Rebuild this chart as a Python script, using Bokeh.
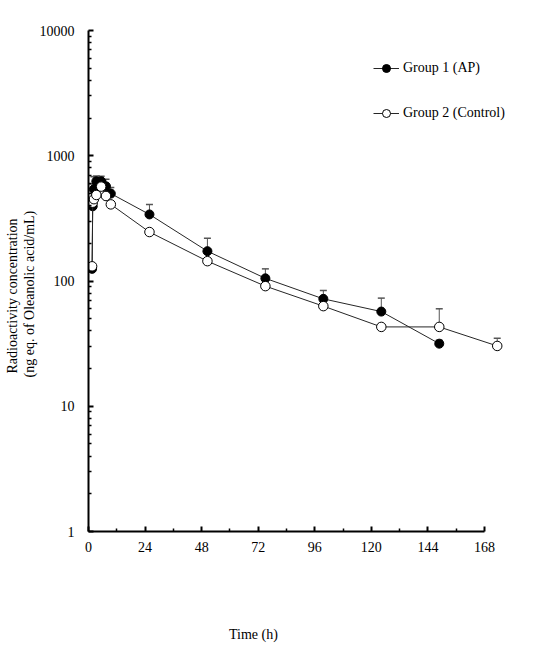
from bokeh.plotting import figure
from bokeh.models import (Range1d, FixedTicker, ColumnDataSource, Whisker, TeeHead,
                          Legend, LegendItem, Title)
from bokeh.embed import file_html
from bokeh.resources import INLINE

# ---------------- data ----------------
time_g1 = [0.25, 0.5, 1, 2, 4, 6, 8, 24, 48, 72, 96, 120, 144]
conc_g1 = [125, 395, 540, 625, 625, 570, 499, 340, 173, 105, 72, 57, 31.6]
sd_g1 = [0, 200, 140, 65, 60, 80, 60, 69, 46, 20, 12, 16, 2]

time_g2 = [0.25, 0.5, 1, 2, 4, 6, 8, 24, 48, 72, 96, 120, 144, 168]
conc_g2 = [131, 422, 450, 486, 567, 477, 409, 246, 144, 91, 63, 43, 43, 30.3]
sd_g2 = [0, 10, 10, 10, 12, 10, 10, 10, 8, 5, 3, 2, 17, 4.6]

x_ticks = [0, 24, 48, 72, 96, 120, 144, 168]
x_minor = [12, 36, 60, 84, 108, 132, 156]
y_decades = [1, 10, 100, 1000, 10000]

series_labels = ["Group 1 (AP)", "Group 2 (Control)"]
x_label = "Time (h)"
y_label_1 = "Radioactivity concentration"
y_label_2 = "(ng eq. of Oleanolic acid/mL)"

# ---------------- layout ----------------
FONT = "Liberation Serif"
W, H = 530, 650
BL, BT = 88, 30
FRAME_RIGHT = 512
FRAME_BOTTOM = 531
BR = W - FRAME_RIGHT
BB = H - FRAME_BOTTOM
FRAME_W = FRAME_RIGHT - BL

AX0, AX168 = 88, 484
x_end = 168 * FRAME_W / (AX168 - AX0)
# the markers of the source image sit on a slightly shifted time scale
D0, DPX = 91, 2.415
d_start = (BL - D0) / DPX
d_end = (FRAME_RIGHT - D0) / DPX

p = figure(width=W, height=H, x_range=Range1d(0, x_end), y_range=Range1d(1, 10000),
           y_axis_type="log", output_backend="svg", toolbar_location=None,
           min_border_left=BL, min_border_right=BR, min_border_top=BT, min_border_bottom=BB)
p.extra_x_ranges = {"data": Range1d(d_start, d_end)}
p.outline_line_color = None
p.xgrid.visible = False
p.ygrid.visible = False

minor_y = [k * d for d in y_decades[:-1] for k in range(2, 10)]
for ax in (p.xaxis[0], p.yaxis[0]):
    ax.axis_line_width = 2
    ax.axis_line_color = "black"
    ax.major_tick_line_color = "black"
    ax.minor_tick_line_color = "black"
    ax.major_tick_line_width = 2
    ax.minor_tick_line_width = 1.5
    ax.major_tick_out = 0
    ax.major_tick_in = 5
    ax.minor_tick_out = 0
    ax.minor_tick_in = 3
    ax.major_label_text_font = FONT
    ax.major_label_text_font_size = "14px"
    ax.major_label_text_color = "black"

p.xaxis[0].ticker = FixedTicker(ticks=x_ticks, minor_ticks=x_minor)
p.xaxis[0].bounds = (0, 168)
p.xaxis[0].major_label_standoff = 10
p.yaxis[0].ticker = FixedTicker(ticks=y_decades, minor_ticks=minor_y)
p.yaxis[0].major_label_standoff = 14
p.yaxis[0].major_label_overrides = {d: str(d) for d in y_decades}

LINE_COL = "#262626"

src1 = ColumnDataSource(dict(t=time_g1, c=conc_g1, up=[c + s for c, s in zip(conc_g1, sd_g1)]))
src2 = ColumnDataSource(dict(t=time_g2, c=conc_g2, up=[c + s for c, s in zip(conc_g2, sd_g2)]))

for src in (src1, src2):
    w = Whisker(base="t", lower="c", upper="up", source=src, x_range_name="data",
                line_color="#555555", line_width=1,
                upper_head=TeeHead(size=7, line_color="#555555", line_width=1.5),
                lower_head=None)
    p.add_layout(w)

l1 = p.line("t", "c", source=src1, x_range_name="data", line_color=LINE_COL, line_width=1)
s1 = p.scatter("t", "c", source=src1, x_range_name="data", size=9,
               fill_color="black", line_color="black", line_width=1)
l2 = p.line("t", "c", source=src2, x_range_name="data", line_color=LINE_COL, line_width=1)
s2 = p.scatter("t", "c", source=src2, x_range_name="data", size=9.5,
               fill_color="white", line_color="black", line_width=1)

legend = Legend(items=[LegendItem(label=series_labels[0], renderers=[l1, s1]),
                       LegendItem(label=series_labels[1], renderers=[l2, s2])],
                location=(373 - BL, FRAME_BOTTOM - 123),
                orientation="vertical", spacing=25, glyph_width=26, glyph_height=20,
                label_height=20, label_standoff=4, padding=0, margin=0,
                border_line_color=None, background_fill_alpha=0,
                label_text_font=FONT, label_text_font_size="14px",
                label_text_color="black")
p.add_layout(legend, "center")

# y axis title: two lines, innermost first
for txt, off in ((y_label_2, FRAME_BOTTOM - 377), (y_label_1, FRAME_BOTTOM - 373)):
    p.add_layout(Title(text=txt, align="left", offset=off, standoff=0, text_font=FONT,
                       text_font_size="14px", text_font_style="normal",
                       text_color="black"), "left")

# x axis title, pushed down to sit well below the tick labels
p.add_layout(Title(text="\n\n\n\n" + x_label, align="left", offset=253 - BL - 24.5,
                   standoff=0, vertical_align="bottom", text_line_height=1.18,
                   text_font=FONT, text_font_size="14px", text_font_style="normal",
                   text_color="black"), "below")

open("out.html", "w").write(file_html(p, INLINE))
